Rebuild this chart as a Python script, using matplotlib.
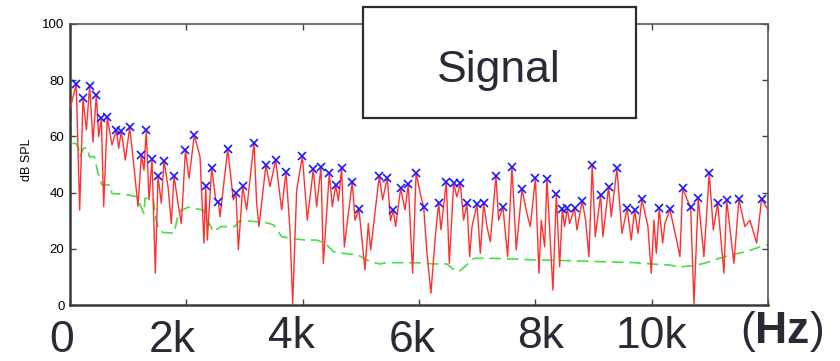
import matplotlib
matplotlib.use("Agg")
import matplotlib.pyplot as plt
from matplotlib.patches import Rectangle

plt.rcParams["mathtext.fontset"] = "custom"
plt.rcParams["mathtext.rm"] = "Liberation Sans"
plt.rcParams["mathtext.bf"] = "Liberation Sans:bold"

# ---- data ----
peak_freq = [108, 224, 338, 453, 539, 641, 797, 882, 1026, 1226, 1312, 1410, 1513, 1616, 1788, 1985,
             2137, 2333, 2436, 2550, 2711, 2854, 2969, 3163, 3369, 3536, 3713, 3995,
             4183, 4315, 4458, 4567, 4670, 4853, 4968, 5317, 5455, 5558, 5685, 5816, 5950,
             6080, 6338, 6469, 6596, 6710, 6825, 6997, 7112, 7323, 7443, 7598, 7770, 8002,
             8199, 8360, 8463, 8549, 8675, 8806, 8978, 9122, 9260, 9403, 9580, 9707, 9833,
             10130, 10314, 10532, 10670, 10800, 10990, 11134, 11289, 11500, 11890]
peak_db = [78.6, 73.5, 78.0, 74.7, 66.4, 66.8, 62.3, 61.9, 63.2, 53.4, 62.3, 51.8, 45.9, 51.4, 45.9, 55.2,
           60.5, 42.3, 48.9, 36.8, 55.4, 39.7, 42.3, 57.8, 50.0, 51.6, 47.4, 52.9,
           48.3, 49.2, 46.9, 42.7, 48.9, 43.9, 34.0, 45.9, 45.3, 33.8, 41.5, 43.0, 47.1,
           35.0, 36.4, 43.9, 43.3, 43.3, 36.2, 35.8, 36.2, 45.9, 35.0, 49.2, 41.2, 45.1,
           44.8, 39.5, 34.0, 34.4, 34.4, 37.1, 49.8, 39.1, 42.1, 48.6, 34.4, 33.8, 37.6,
           34.4, 34.0, 41.5, 34.8, 38.2, 46.9, 36.4, 37.4, 37.6, 37.7]

valley_freq = [10, 166, 281, 395, 493, 579, 722, 837, 951, 1100, 1169, 1272, 1358, 1467, 1570, 1685, 1742, 1857, 1914,
               2046, 2235, 2303, 2361, 2505, 2579, 2808, 2894, 3037, 3209, 3249, 3438, 3639, 3782, 3828, 3897,
               4080, 4240, 4355, 4510, 4615, 4716, 4899, 5071, 5129, 5169, 5375, 5510, 5598, 5759, 5891,
               6034, 6137, 6205, 6280, 6378, 6521, 6650, 6767, 6871, 6911, 7054, 7169, 7226, 7369, 7524, 7672, 7856, 7913,
               8062, 8102, 8160, 8303, 8418, 8503, 8589, 8715, 8864, 8921, 9030, 9162, 9305, 9489, 9648, 9764, 9936, 9993,
               10039, 10080, 10188, 10228, 10429, 10486, 10600, 10727, 10898, 11060, 11243, 11414, 11603, 11690, 11804, 12000]
valley_db = [70.6, 33.8, 62.3, 58.0, 59.9, 35.0, 57.0, 55.8, 51.6, 49.2, 35.0, 48.0, 37.4, 11.3, 36.2, 42.1, 29.0, 36.2, 29.0,
             45.0, 52.8, 22.0, 23.1, 37.4, 31.4, 37.4, 19.6, 33.8, 36.2, 27.9, 42.1, 33.8, 26.7, 0.5, 40.9,
             30.2, 35.0, 14.8, 35.0, 37.0, 20.7, 30.2, 12.5, 29.0, 19.6, 37.4, 30.0, 27.9, 33.8, 11.3,
             38.5, 18.4, 4.2, 24.3, 26.7, 14.8, 38.5, 30.2, 17.2, 27.9, 18.4, 27.9, 22.5, 30.2, 17.2, 19.6, 32.6, 27.9,
             11.3, 30.2, 20.7, 5.3, 13.6, 27.9, 29.0, 26.7, 30.2, 17.2, 24.3, 24.3, 31.4, 25.5, 23.1, 25.5, 27.9, 11.3,
             30.2, 18.4, 22.0, 29.0, 23.1, 17.2, 38.0, 0.5, 17.2, 26.7, 11.3, 14.8, 27.9, 30.2, 22.0, 33.8]

mask_freq = [0, 20, 100, 140, 175, 230, 300, 330, 420, 470, 500, 550, 690, 720, 1000, 1150, 1200, 1270, 1290,
             1430, 1480, 1530, 1600, 1790, 1850, 1900, 2030, 2290, 2370, 2460, 2600, 2830, 2920, 3120, 3380,
             3500, 3640, 3810, 4040, 4240, 4390, 4525, 4700, 4950, 5160, 5330, 5450, 6020, 6250, 6480, 6570,
             6680, 6770, 6940, 7280, 7690, 8030, 8530, 9110, 9680, 10000, 10310, 10490, 10740, 10950, 11120,
             11350, 11630, 11860, 12000]
mask_db = [82, 57.5, 57.5, 56, 52.8, 55.8, 55.8, 52.8, 52.8, 48, 45.7, 42.7, 42.7, 39.7, 39.2, 38.5, 36, 32.6, 38,
           38, 30.2, 26.7, 25.8, 25.6, 31.3, 33.5, 34.8, 33.8, 30.2, 26.1, 27.9, 27.9, 30, 29.8, 29.3,
           28.5, 24.3, 23.7, 23.1, 23.1, 22, 19, 18.4, 17.8, 15.4, 14.6, 15.1, 15, 14.6, 14.6, 13,
           11.9, 13.3, 16.6, 16.6, 16.3, 16, 15.8, 15.4, 15.1, 14.6, 14.2, 13.6, 14, 15.1, 16.3,
           17.8, 19, 20.7, 21.4]

yticks = [0, 20, 40, 60, 80, 100]
xticks = [0, 2000, 4000, 6000, 8000, 10000, 12000]
big_labels = ["0", "2k", "4k", "6k", "8k", "10k"]
big_label_x = [61.5, 172.5, 291, 412, 541, 651.5]      # pixel centres
big_label_base = [352, 352, 348, 352, 348, 348]        # pixel baselines

# build spectrum polyline from peaks + valleys
pts = sorted(zip(peak_freq + valley_freq, peak_db + valley_db))
spec_f = [p[0] for p in pts]
spec_db = [p[1] for p in pts]

W, H = 840, 361
fig = plt.figure(figsize=(8.4, 3.61), dpi=100)
fig.patch.set_facecolor("white")
ax = fig.add_axes([70 / W, 1 - 305 / H, 698 / W, 281 / H])

ax.plot(mask_freq, mask_db, color="#44e044", lw=1.2, dashes=(7, 3.5), zorder=2)
ax.plot(spec_f, spec_db, color="#ff3030", lw=1.0, zorder=3)
ax.plot(peak_freq, peak_db, linestyle="none", marker="x", color="#1a1aff",
        markersize=5.5, mew=1.2, zorder=4)

ax.set_xlim(0, 12000)
ax.set_ylim(0, 100)
ax.set_xticks(xticks)
ax.set_xticklabels([])
ax.set_yticks(yticks)
ax.set_yticklabels([str(v) for v in yticks], fontsize=9.5, family="Liberation Sans")
ax.tick_params(direction="in", length=4, width=1, top=True, right=True, pad=4,
               color="#444444")
for side in ["left", "bottom"]:
    ax.spines[side].set_linewidth(1.8)
    ax.spines[side].set_color("#3a3a3a")
for side in ["top", "right"]:
    ax.spines[side].set_linewidth(1.2)
    ax.spines[side].set_color("#555555")

fig.text(27 / W, 1 - 160 / H, "dB SPL", rotation=90, ha="center", va="center",
         fontsize=9, family="Liberation Sans")

# Signal box
fig.patches.append(Rectangle((363 / W, 1 - 118 / H), 273 / W, 111 / H,
                             transform=fig.transFigure, facecolor="white",
                             edgecolor="#2b2b38", lw=1.6, zorder=10))
fig.text(498.5 / W, 1 - 82 / H, "Signal", ha="center", va="baseline",
         fontsize=32, family="Liberation Sans", color="#2a2a36", zorder=11)

for lab, xp, yb in zip(big_labels, big_label_x, big_label_base):
    fig.text(xp / W, 1 - yb / H, lab, ha="center", va="baseline", fontsize=32,
             family="Liberation Sans", color="#2a2a36")
fig.text(781.5 / W, 1 - 343 / H, r"($\mathbf{Hz}$)", ha="center", va="baseline",
         fontsize=32, family="Liberation Sans", color="#2a2a36")

fig.savefig("out.png", dpi=100)
